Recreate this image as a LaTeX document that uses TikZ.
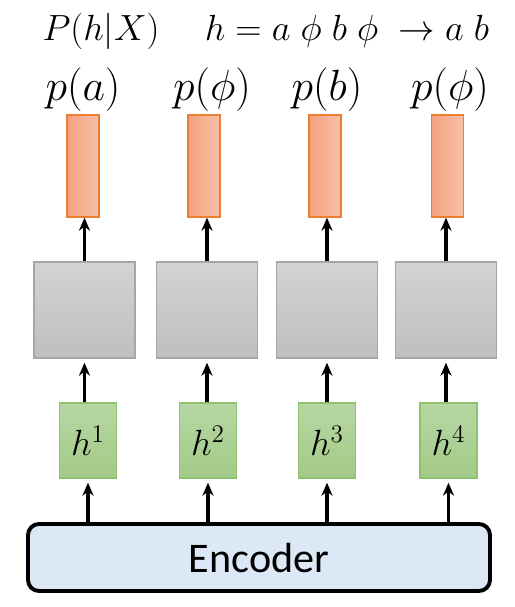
\documentclass[tikz,border=0pt]{standalone}
\usepackage{fontspec}
\usepackage{amsmath,amssymb}
\newfontfamily\encfont{Carlito}
\usetikzlibrary{arrows.meta}
\definecolor{barline}{HTML}{ED7D31}
\definecolor{barleft}{HTML}{F4A27F}
\definecolor{barright}{HTML}{F7C0A8}
\definecolor{boxline}{HTML}{A6A6A6}
\definecolor{boxtop}{HTML}{D3D3D3}
\definecolor{boxbot}{HTML}{BFBFBF}
\definecolor{hline}{HTML}{8DC26F}
\definecolor{htop}{HTML}{B6D7A3}
\definecolor{hbot}{HTML}{A2CA87}
\definecolor{encfill}{HTML}{DCE8F6}
\tikzset{
  outbar/.style={draw=barline,line width=0.8pt,left color=barleft,right color=barright,
    minimum width=0.64cm,minimum height=2.04cm,inner sep=0pt},
  cellbox/.style={draw=boxline,line width=0.8pt,top color=boxtop,bottom color=boxbot,
    minimum width=2.02cm,minimum height=1.92cm,inner sep=0pt},
  hidbox/.style={draw=hline,line width=0.8pt,top color=htop,bottom color=hbot,
    minimum width=1.14cm,minimum height=1.5cm,inner sep=0pt,font=\fontsize{21}{25}\selectfont},
  lbl/.style={font=\fontsize{20}{24}\selectfont,inner sep=0pt},
  plbl/.style={font=\fontsize{23}{27}\selectfont,inner sep=0pt},
  uparrow/.style={-{Stealth[length=0.26cm,width=0.22cm]},line width=2pt},
  up/.style={uparrow,shorten >=0.08cm},
}
\begin{document}
\begin{tikzpicture}
        \useasboundingbox (0,0) rectangle (10.3,-12.14);
        % top line
        \node[lbl] (post) at (2.02,-0.62) {$P(h|X)$};
        \node[lbl] (rule) at (6.94,-0.62) {$h=a\;\phi\;b\;\phi\;\rightarrow a\;b$};
        % output probabilities
        \node[plbl] (pa) at (1.66,-1.8) {$p(a)$};
        \node[plbl] (pb1) at (4.24,-1.8) {$p(\phi)$};
        \node[plbl] (pc) at (6.54,-1.8) {$p(b)$};
        \node[plbl] (pd) at (9.0,-1.8) {$p(\phi)$};
        \node[outbar] (o1) at (1.66,-3.32) {};
        \node[outbar] (o2) at (4.08,-3.32) {};
        \node[outbar] (o3) at (6.50,-3.32) {};
        \node[outbar] (o4) at (8.95,-3.32) {};
        % cells
        \node[cellbox] (c1) at (1.69,-6.2) {};
        \node[cellbox] (c2) at (4.14,-6.2) {};
        \node[cellbox] (c3) at (6.54,-6.2) {};
        \node[cellbox] (c4) at (8.92,-6.2) {};
        % hidden states
        \node[hidbox] (h1) at (1.76,-8.81) {$h^1$};
        \node[hidbox] (h2) at (4.16,-8.81) {$h^2$};
        \node[hidbox] (h3) at (6.54,-8.81) {$h^3$};
        \node[hidbox] (h4) at (8.97,-8.81) {$h^4$};
        \node[draw,line width=2.2pt,rounded corners=0.22cm,fill=encfill,
              minimum width=9.24cm,minimum height=1.34cm,
              font=\encfont\fontsize{24}{28}\selectfont] (enc) at (5.18,-11.15) {Encoder};
        % arrows
        \draw[uparrow] (c1.north) -- (o1.south -| c1.north);
        \draw[uparrow] (c2.north) -- (o2.south -| c2.north);
        \draw[uparrow] (c3.north) -- (o3.south -| c3.north);
        \draw[uparrow] (c4.north) -- (o4.south -| c4.north);
        \draw[up] (h1.north -| c1.south) -- (c1.south);
        \draw[up] (h2.north -| c2.south) -- (c2.south);
        \draw[up] (h3.north -| c3.south) -- (c3.south);
        \draw[up] (h4.north -| c4.south) -- (c4.south);
        \draw[up] (enc.north -| h1.south) -- (h1.south);
        \draw[up] (enc.north -| h2.south) -- (h2.south);
        \draw[up] (enc.north -| h3.south) -- (h3.south);
        \draw[up] (enc.north -| h4.south) -- (h4.south);
      \end{tikzpicture}
\end{document}
